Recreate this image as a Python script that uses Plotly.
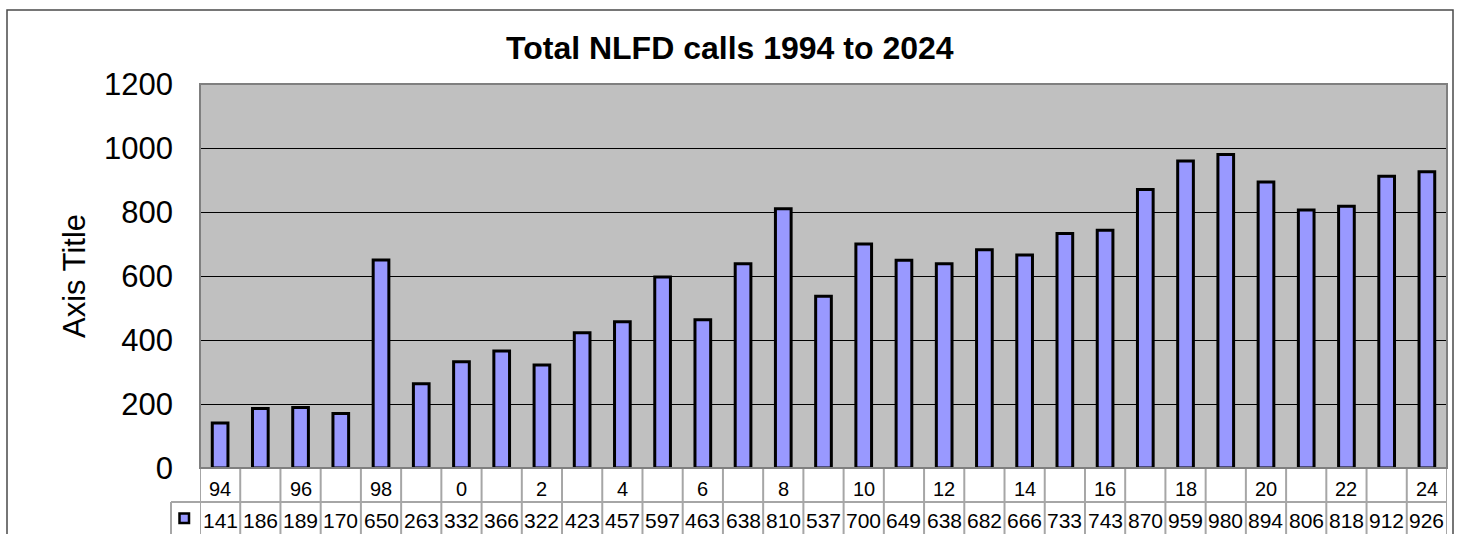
import plotly.graph_objects as go

# ---- data ----
years = [str(y) for y in range(1994, 2025)]
tick_labels = ["94", "", "96", "", "98", "", "0", "", "2", "", "4", "", "6", "", "8", "",
               "10", "", "12", "", "14", "", "16", "", "18", "", "20", "", "22", "", "24"]
calls = [141, 186, 189, 170, 650, 263, 332, 366, 322, 423, 457, 597, 463, 638, 810, 537,
         700, 649, 638, 682, 666, 733, 743, 870, 959, 980, 894, 806, 818, 912, 926]
title_text = "Total NLFD calls 1994 to 2024"
y_title = "Axis Title"
y_ticks = [0, 200, 400, 600, 800, 1000, 1200]

FONT = "Liberation Sans, Arial, sans-serif"
W, H = 1461, 534
ML, MR, MT, MB = 200, 14, 84, 66
PW = W - ML - MR
PH = H - MT - MB


def px_x(px):
    return (px - ML) / PW


def px_y(py):
    return (H - MB - py) / PH


fig = go.Figure()
fig.add_trace(go.Bar(
    x=years, y=calls,
    marker=dict(color="#9999FF", line=dict(color="black", width=3)),
    showlegend=False, hoverinfo="x+y",
))

n = len(years)
grid_col = "#A6A6A6"
shapes = []
row1_bot = px_y(502)
row2_bot = px_y(560)
key_left = px_x(171)

# vertical table lines
for i in range(n + 1):
    shapes.append(dict(type="line", xref="x", yref="paper", x0=i - 0.5, x1=i - 0.5,
                       y0=0, y1=row2_bot, line=dict(color=grid_col, width=2), layer="above"))
# legend key column
shapes.append(dict(type="line", xref="paper", yref="paper", x0=key_left, x1=key_left,
                   y0=row1_bot, y1=row2_bot, line=dict(color=grid_col, width=2)))
# horizontal line between rows
shapes.append(dict(type="line", xref="paper", yref="paper", x0=key_left, x1=1,
                   y0=row1_bot, y1=row1_bot, line=dict(color=grid_col, width=2)))
# legend key
shapes.append(dict(type="rect", xref="paper", yref="paper",
                   x0=px_x(179.5), x1=px_x(189), y0=px_y(523), y1=px_y(513.5),
                   fillcolor="#9999FF", line=dict(color="black", width=2.5)))
# plot area border
shapes.append(dict(type="rect", xref="paper", yref="paper", x0=0, x1=1, y0=0, y1=1,
                   line=dict(color="#7F7F7F", width=2), layer="above"))
# outer chart border
shapes.append(dict(type="rect", xref="paper", yref="paper",
                   x0=px_x(7), x1=px_x(1453), y0=px_y(560), y1=px_y(10),
                   line=dict(color="#4A4A4A", width=1.5)))

annotations = []
for i in range(n):
    if tick_labels[i]:
        annotations.append(dict(x=i, y=px_y(489), xref="x", yref="paper",
                                text=tick_labels[i], showarrow=False,
                                font=dict(family=FONT, size=20, color="black"),
                                xanchor="center", yanchor="middle"))
    annotations.append(dict(x=i, y=px_y(520), xref="x", yref="paper",
                            text=str(calls[i]), showarrow=False,
                            font=dict(family=FONT, size=21, color="black"),
                            xanchor="center", yanchor="middle"))
annotations.append(dict(x=px_x(74), y=0.5, xref="paper", yref="paper", text=y_title,
                        textangle=-90, showarrow=False,
                        font=dict(family=FONT, size=31, color="black"),
                        xanchor="center", yanchor="middle"))
annotations.append(dict(x=px_x(730), y=px_y(48), xref="paper", yref="paper",
                        text="<b>" + title_text + "</b>", showarrow=False,
                        font=dict(family=FONT, size=32, color="black"),
                        xanchor="center", yanchor="middle"))

fig.update_layout(
    width=W, height=H,
    margin=dict(l=ML, r=MR, t=MT, b=MB, pad=0),
    paper_bgcolor="white", plot_bgcolor="#C0C0C0",
    bargap=0.61,
    shapes=shapes, annotations=annotations,
    font=dict(family=FONT, color="black"),
    xaxis=dict(type="category", showticklabels=False, ticks="", showgrid=False,
               zeroline=False, showline=False, range=[-0.5, n - 0.5], fixedrange=True),
    yaxis=dict(range=[0, 1200], tickvals=y_ticks, showgrid=True, gridcolor="black",
               gridwidth=1, zeroline=False, showline=False, ticks="",
               ticklabelstandoff=26,
               tickfont=dict(family=FONT, size=31, color="black"), fixedrange=True),
)

fig.write_html("out.html")
